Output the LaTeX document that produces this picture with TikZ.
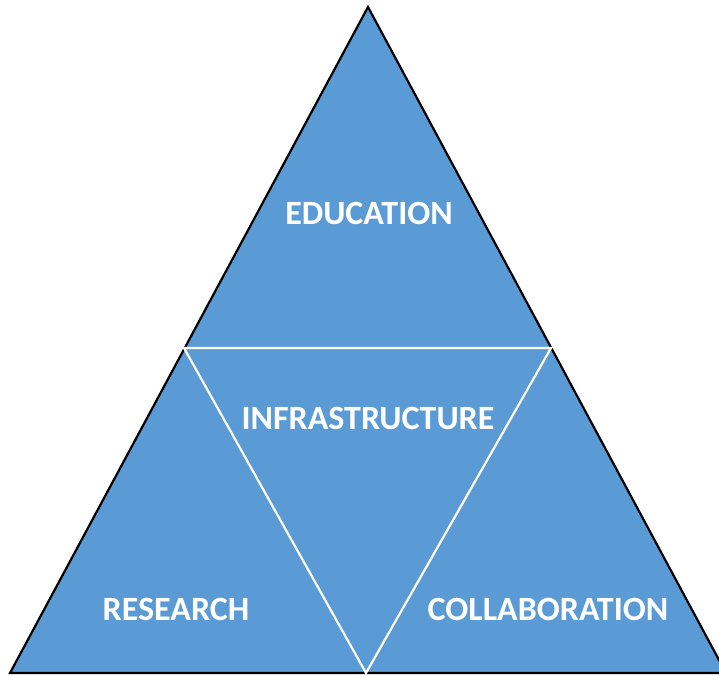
\documentclass[tikz,border=0pt]{standalone}
\usepackage{fontspec}
\setmainfont{Carlito}
\definecolor{pyrblue}{HTML}{5B9BD5}

\begin{document}
\begin{tikzpicture}[x=1pt,y=-1pt,
            outer/.style={draw=black,fill=pyrblue,line width=2.2pt,line join=miter},
            inner/.style={draw=white,line width=2.2pt},
            lab/.style={text=white,font=\bfseries\fontsize{34}{40}\selectfont,inner sep=0pt}
          ]
          \useasboundingbox (0,0) rectangle (719,675);
          \clip (0,0) rectangle (719,675);

          %corners
          \coordinate (top) at (368,7);
          \coordinate (bl) at (10,673);
          \coordinate (br) at (726,673);
          \coordinate (ml) at (184,348);
          \coordinate (mr) at (551,348);
          \coordinate (mb) at (366,673);

          \path[outer] (top) -- (br) -- (bl) -- cycle;
          \path[inner] (ml) -- (mr) -- (mb) -- cycle;

          %labels
          \node[lab] (edu) at (369,213) {EDUCATION};
          \node[lab] (infra) at (368,418) {INFRASTRUCTURE};
          \node[lab] (res) at (176,609) {RESEARCH};
          \node[lab] (collab) at (548,609) {COLLABORATION};
      \end{tikzpicture}
\end{document}
